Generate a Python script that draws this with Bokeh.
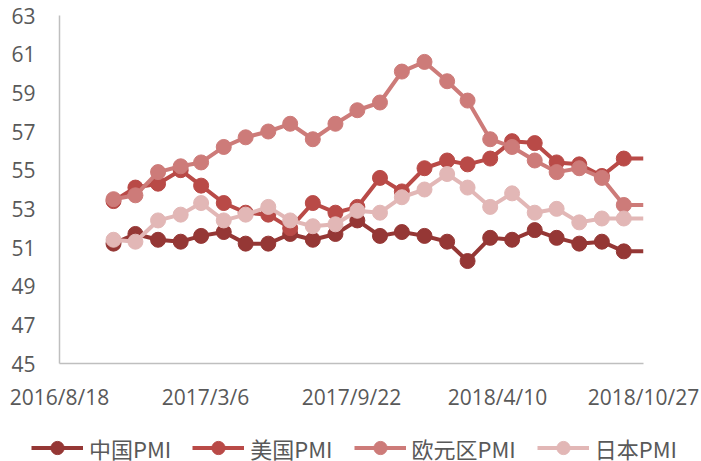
import pandas as pd
from bokeh.plotting import figure
from bokeh.models import Range1d, FixedTicker, Legend, LegendItem
from bokeh.embed import file_html
from bokeh.resources import INLINE

# ---- data ----
months = ["2016-10-31", "2016-11-30", "2016-12-31", "2017-01-31", "2017-02-28", "2017-03-31",
          "2017-04-30", "2017-05-31", "2017-06-30", "2017-07-31", "2017-08-31", "2017-09-30",
          "2017-10-31", "2017-11-30", "2017-12-31", "2018-01-31", "2018-02-28", "2018-03-31",
          "2018-04-30", "2018-05-31", "2018-06-30", "2018-07-31", "2018-08-31", "2018-09-30"]
china = [51.2, 51.7, 51.4, 51.3, 51.6, 51.8, 51.2, 51.2, 51.7, 51.4, 51.7, 52.4,
         51.6, 51.8, 51.6, 51.3, 50.3, 51.5, 51.4, 51.9, 51.5, 51.2, 51.3, 50.8]
us = [53.4, 54.1, 54.3, 55.0, 54.2, 53.3, 52.8, 52.7, 52.0, 53.3, 52.8, 53.1,
      54.6, 53.9, 55.1, 55.5, 55.3, 55.6, 56.5, 56.4, 55.4, 55.3, 54.7, 55.6]
eurozone = [53.5, 53.7, 54.9, 55.2, 55.4, 56.2, 56.7, 57.0, 57.4, 56.6, 57.4, 58.1,
            58.5, 60.1, 60.6, 59.6, 58.6, 56.6, 56.2, 55.5, 54.9, 55.1, 54.6, 53.2]
japan = [51.4, 51.3, 52.4, 52.7, 53.3, 52.4, 52.7, 53.1, 52.4, 52.1, 52.2, 52.9,
         52.8, 53.6, 54.0, 54.8, 54.1, 53.1, 53.8, 52.8, 53.0, 52.3, 52.5, 52.5]
series_names = ["中国PMI", "美国PMI", "欧元区PMI", "日本PMI"]
colors = ["#953735", "#b94a47", "#cd7b79", "#e2b7b6"]
x_tick_dates = ["2016-08-18", "2017-03-06", "2017-09-22", "2018-04-10", "2018-10-27"]
x_tick_labels = ["2016/8/18", "2017/3/6", "2017/9/22", "2018/4/10", "2018/10/27"]
y_ticks = [45, 47, 49, 51, 53, 55, 57, 59, 61, 63]


def ms(d):
    return pd.Timestamp(d).value / 1e6


xs = [ms(d) for d in months]
tick_ms = [ms(d) for d in x_tick_dates]
x_end = tick_ms[-1]
all_series = [china, us, eurozone, japan]

FONT = "Open Sans"
TXT = "#595959"

p = figure(width=701, height=428, output_backend="svg", toolbar_location=None,
           x_range=Range1d(tick_ms[0], x_end), y_range=Range1d(45, 63),
           min_border_left=59, min_border_top=15, min_border_right=58, min_border_bottom=65)
p.outline_line_color = None
p.xgrid.visible = False
p.ygrid.visible = False
p.background_fill_color = "white"
p.border_fill_color = "white"

for vals, col in zip(all_series, colors):
    lx = xs + [x_end]
    ly = vals + [vals[-1]]
    p.line(lx, ly, line_color=col, line_width=4)
    p.scatter(xs, vals, size=15, fill_color=col, line_color=col)

# axes
for ax in (p.xaxis[0], p.yaxis[0]):
    ax.axis_line_color = "#bfbfbf"
    ax.axis_line_width = 1.5
    ax.major_tick_line_color = None
    ax.minor_tick_line_color = None
    ax.major_tick_out = 0
    ax.major_tick_in = 0
    ax.major_label_text_font = FONT
    ax.major_label_text_font_size = "21px"
    ax.major_label_text_color = TXT

p.xaxis[0].ticker = FixedTicker(ticks=tick_ms)
p.xaxis[0].major_label_overrides = {t: lab for t, lab in zip(tick_ms, x_tick_labels)}
p.xaxis[0].major_label_standoff = 19
p.yaxis[0].ticker = FixedTicker(ticks=y_ticks)
p.yaxis[0].major_label_standoff = 24

# legend strip below the chart (series drawn out of view, only legend shows)
lg = figure(width=701, height=33, output_backend="svg", toolbar_location=None,
            x_range=p.x_range, y_range=Range1d(0, 1), min_border=0)
lg.outline_line_color = None
lg.axis.visible = False
lg.grid.visible = False
lg.background_fill_color = "white"
lg.border_fill_color = "white"

items = []
for name, vals, col in zip(series_names, all_series, colors):
    r1 = lg.line(xs, vals, line_color=col, line_width=4)
    r2 = lg.scatter(xs, vals, size=15, fill_color=col, line_color=col)
    items.append(LegendItem(label=name, renderers=[r1, r2]))

legend = Legend(items=items, orientation="horizontal", location=(31, -3),
                label_text_font="Noto Sans CJK SC", label_text_font_size="22px",
                label_text_color=TXT, glyph_width=52, glyph_height=33,
                label_standoff=6, spacing=21, padding=0, margin=0,
                border_line_alpha=0, background_fill_alpha=0)
lg.add_layout(legend, "center")

open("out.html", "w").write(file_html([p, lg], INLINE))
